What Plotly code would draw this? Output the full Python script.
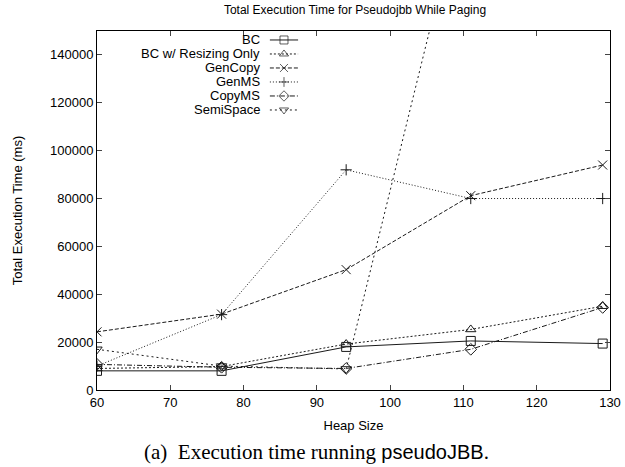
import plotly.graph_objects as go

heap = [60, 77, 94, 111, 129]
bc = [8000, 8000, 18000, 20500, 19400]
bc_resize = [9000, 9800, 19200, 25300, 35000]
gencopy = [24300, 31700, 50300, 81200, 94000]
genms = [10000, 31500, 92000, 80000, 80000]
copyms = [10700, 9500, 9000, 17000, 34500]
semispace = [17000, 10000, 8800, 220000, 230000]

names = ["BC", "BC w/ Resizing Only", "GenCopy", "GenMS", "CopyMS", "SemiSpace"]
series = [bc, bc_resize, gencopy, genms, copyms, semispace]
symbols = ["square-open", "triangle-up-open", "x-thin-open", "cross-thin-open",
           "diamond-open", "triangle-down-open"]
dashes = ["solid", "2px,2px", "4px,2px", "1px,2px", "5px,2px,1px,2px", "2px,3px"]
msizes = [9, 9, 9, 8, 9, 9]

fig = go.Figure()
for name, ys, sym, dash, ms in zip(names, series, symbols, dashes, msizes):
    fig.add_trace(go.Scatter(
        x=heap, y=ys, mode="lines+markers", name=name, showlegend=False,
        line=dict(color="#1a1a1a", width=1, dash=dash),
        marker=dict(symbol=sym, size=ms, color="#1a1a1a", line=dict(color="#1a1a1a", width=1)),
        cliponaxis=True,
    ))

# custom legend (text on the left, sample on the right), gnuplot-style
leg_y = [0.975, 0.936, 0.897, 0.858, 0.819, 0.780]
for name, sym, dash, ms, ly in zip(names, symbols, dashes, msizes, leg_y):
    fig.add_trace(go.Scatter(
        x=[0.337, 0.3645, 0.392], y=[ly, ly, ly], xaxis="x2", yaxis="y2",
        mode="lines+markers", showlegend=False, hoverinfo="skip",
        line=dict(color="#1a1a1a", width=1, dash=dash),
        marker=dict(symbol=sym, size=[0, ms - 1, 0], color="#1a1a1a",
                    line=dict(color="#1a1a1a", width=1)),
    ))
    fig.add_annotation(x=0.3216, y=ly, xref="x2", yref="y2", text=name, showarrow=False,
                       xanchor="right", yanchor="middle",
                       font=dict(family="Liberation Sans", size=13, color="#000"))

fig.add_annotation(
    x=(142 - 97) / 513, y=-(452 - 390) / 359, xref="paper", yref="paper",
    yanchor="middle", xanchor="left",
    text="(a)  Execution time running <span style='font-family:Liberation Sans;font-size:20px'>pseudoJBB</span>.",
    showarrow=False, font=dict(family="Liberation Serif", size=21, color="#000"))

fig.update_layout(
    width=625, height=467,
    margin=dict(l=97, r=15, t=31, b=77, autoexpand=False),
    paper_bgcolor="white", plot_bgcolor="white",
    title=dict(text="Total Execution Time for Pseudojbb While Paging", x=355 / 625, xanchor="center",
               y=1 - 10 / 467, yanchor="middle",
               font=dict(family="Liberation Sans", size=12, color="#000")),
    font=dict(family="Liberation Sans", size=13, color="#000"),
    xaxis=dict(range=[60, 130], dtick=10, tick0=60, ticks="inside", ticklen=5,
               showline=True, linecolor="#000", linewidth=1, mirror="ticks",
               showgrid=False, zeroline=False, automargin=False,
               title=dict(text="Heap Size", font=dict(size=13), standoff=12),
               tickfont=dict(size=13)),
    yaxis=dict(range=[0, 150000], dtick=20000, tick0=0, ticks="inside", ticklen=5,
               showline=True, linecolor="#000", linewidth=1, mirror="ticks",
               showgrid=False, zeroline=False, tickformat="d", automargin=False,
               title=dict(text="Total Execution Time (ms)", font=dict(size=13), standoff=24),
               tickfont=dict(size=13)),
    xaxis2=dict(range=[0, 1], overlaying="x", visible=False, fixedrange=True),
    yaxis2=dict(range=[0, 1], overlaying="y", visible=False, fixedrange=True),
    showlegend=False,
)

fig.write_html("out.html")
